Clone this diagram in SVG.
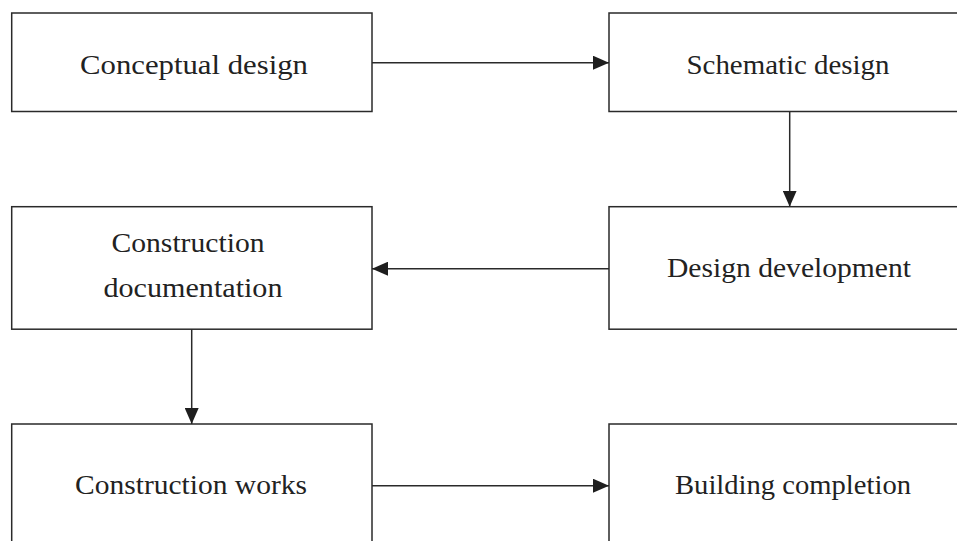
<svg xmlns="http://www.w3.org/2000/svg" width="957" height="541" viewBox="0 0 957 541">
<style>
.box{fill:#fff;stroke:#2a2a2a;stroke-width:1.5}
.lbl{font-family:"Liberation Serif","Times New Roman",serif;font-size:28px;fill:#222;text-anchor:middle}
.con{stroke:#2a2a2a;stroke-width:1.5;fill:none}
</style>
<defs>
<marker id="ah" markerWidth="16" markerHeight="14" refX="16" refY="7" orient="auto" markerUnits="userSpaceOnUse">
<path d="M0,0 L16,7 L0,14 Z" fill="#1e1e1e"/>
</marker>
</defs>
<rect width="957" height="541" fill="#fff"/>
<g id="n1"><rect class="box" x="11.7" y="13" width="360.3" height="98.5"/><text class="lbl" x="194" y="73.5" textLength="228" lengthAdjust="spacingAndGlyphs">Conceptual design</text></g>
<g id="n2"><rect class="box" x="609" y="13" width="360" height="98.5"/><text class="lbl" x="788" y="73.5" textLength="203" lengthAdjust="spacingAndGlyphs">Schematic design</text></g>
<g id="n3"><rect class="box" x="11.7" y="206.7" width="360.3" height="122.5"/><text class="lbl" x="188" y="252" textLength="153" lengthAdjust="spacingAndGlyphs">Construction</text><text class="lbl" x="193" y="297" textLength="179" lengthAdjust="spacingAndGlyphs">documentation</text></g>
<g id="n4"><rect class="box" x="609" y="206.7" width="360" height="122.5"/><text class="lbl" x="789" y="276.5" textLength="244" lengthAdjust="spacingAndGlyphs">Design development</text></g>
<g id="n5"><rect class="box" x="11.7" y="424" width="360.3" height="130"/><text class="lbl" x="191" y="493.5" textLength="232" lengthAdjust="spacingAndGlyphs">Construction works</text></g>
<g id="n6"><rect class="box" x="609" y="424" width="360" height="130"/><text class="lbl" x="793" y="493.5" textLength="236" lengthAdjust="spacingAndGlyphs">Building completion</text></g>
<g id="connectors">
<line class="con" x1="372" y1="62.7" x2="609" y2="62.7" marker-end="url(#ah)"/>
<line class="con" x1="789.7" y1="111.5" x2="789.7" y2="206.7" marker-end="url(#ah)"/>
<line class="con" x1="609" y1="268.7" x2="372" y2="268.7" marker-end="url(#ah)"/>
<line class="con" x1="191.7" y1="329.2" x2="191.7" y2="424" marker-end="url(#ah)"/>
<line class="con" x1="372" y1="485.7" x2="609" y2="485.7" marker-end="url(#ah)"/>
</g>
</svg>
